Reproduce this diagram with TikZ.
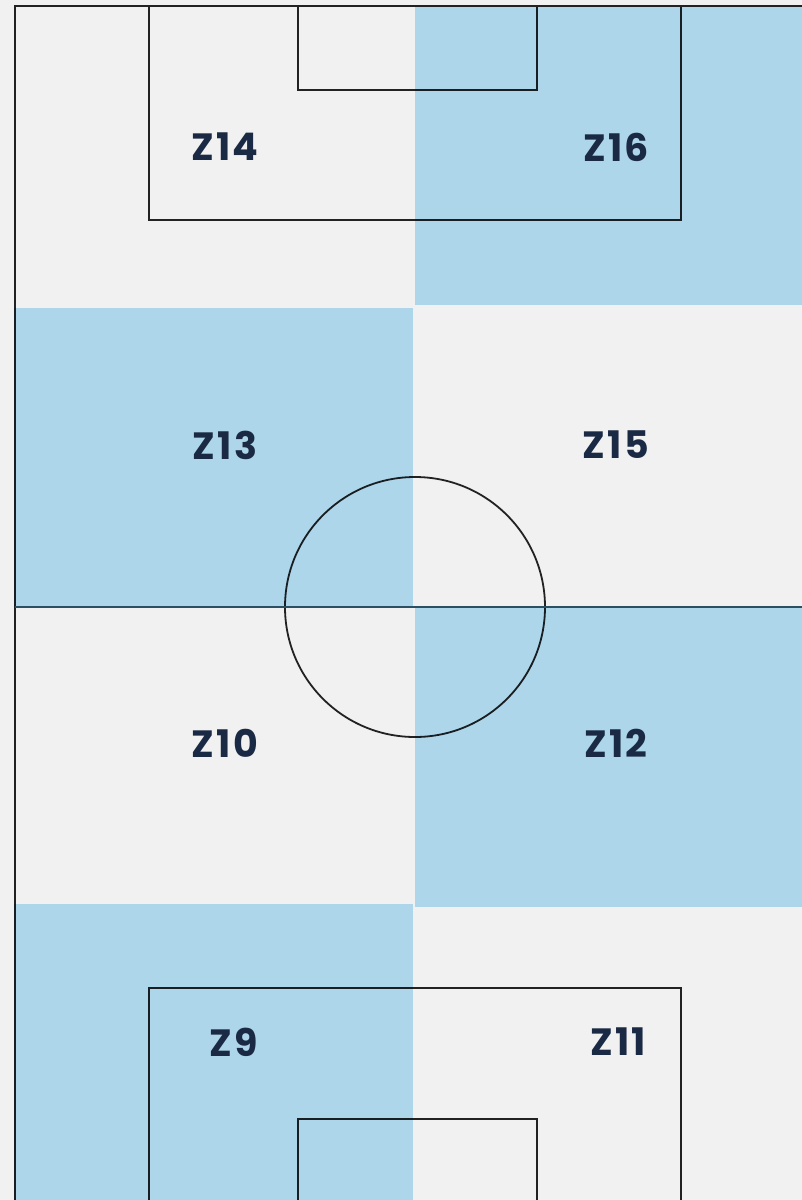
\documentclass[tikz,border=0pt]{standalone}
\usepackage{fontspec}
\newfontfamily\zfont{Poppins}[LetterSpace=6]
\definecolor{paper}{HTML}{F1F1F1}
\definecolor{zoneblue}{HTML}{B8E3F8}
\definecolor{ink}{HTML}{1B2A44}
\definecolor{pline}{HTML}{222222}
\definecolor{hline}{HTML}{2B4F63}
\tikzset{
  pitch/.style={draw=pline, line width=1.8pt},
  zone/.style={fill=zoneblue, draw=none},
  zlabel/.style={font=\zfont\bfseries\fontsize{38}{38}\selectfont, text=ink, inner sep=0pt, anchor=center}
}
\begin{document}
\begin{tikzpicture}[x=1pt,y=-1pt]
\useasboundingbox (0,0) rectangle (802,1200);
\fill[paper] (0,0) rectangle (802,1200);
% pitch lines
\draw[pitch] (802,6) -- (15,6) -- (15,1200);
\draw[pitch] (149,6) rectangle (681,220);
\draw[pitch] (298,6) rectangle (537,90);
\draw[pitch] (415,607) circle (130);
\draw[pitch] (149,1200) -- (149,988) -- (681,988) -- (681,1200);
\draw[pitch] (298,1200) -- (298,1119) -- (537,1119) -- (537,1200);
% zones (multiplied over the lines)
\begin{scope}[blend mode=multiply]
\fill[zone] (415,6.9) rectangle (802,305);
\fill[zone] (14,308) rectangle (413,607);
\fill[zone] (415,607) rectangle (802,907);
\fill[zone] (14,904) rectangle (413,1200);
\end{scope}
\draw[draw=hline, line width=1.8pt] (15,607) -- (802,607);
% labels
\node[zlabel] (z14) at (225,147) {Z14};
\node[zlabel] (z16) at (616,147) {Z16};
\node[zlabel] (z13) at (225,445) {Z13};
\node[zlabel] (z15) at (616,445) {Z15};
\node[zlabel] (z10) at (225,743) {Z10};
\node[zlabel] (z12) at (616,743) {Z12};
\node[zlabel] (z9) at (234,1042) {Z9};
\node[zlabel] (z11) at (618,1042) {Z11};
\end{tikzpicture}
\end{document}
